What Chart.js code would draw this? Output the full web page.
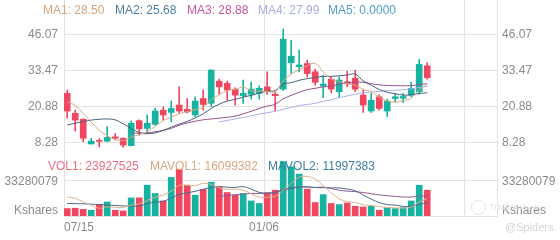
<!DOCTYPE html>
<html>
<head>
<meta charset="utf-8">
<script src="https://cdn.jsdelivr.net/npm/chart.js@4.4.1/dist/chart.umd.min.js"></script>
<style>
  body { margin: 0; width: 560px; height: 240px; overflow: hidden; background: #fff; position: relative;
         font-family: "Liberation Sans", Arial, sans-serif; }
  canvas { position: absolute; left: 0; }
  #price { top: 0; }
  #volume { top: 160px; }
  .lg { position: absolute; font-size: 12px; line-height: 14px; white-space: nowrap; }
  .wm { position: absolute; color: #d2d2d2; white-space: nowrap; }
</style>
</head>
<body>
<canvas id="price" width="560" height="160"></canvas>
<canvas id="volume" width="560" height="80"></canvas>

<span class="lg" style="left:43px;top:3px;color:#d4a47c">MA1: 28.50</span>
<span class="lg" style="left:115px;top:3px;color:#4b7fa5">MA2: 25.68</span>
<span class="lg" style="left:187px;top:3px;color:#c9559e">MA3: 28.88</span>
<span class="lg" style="left:258px;top:3px;color:#a7aee3">MA4: 27.99</span>
<span class="lg" style="left:328px;top:3px;color:#4fa0c8">MA5: 0.0000</span>

<span class="lg" style="left:48px;top:159px;color:#ee6e80">VOL1: 23927525</span>
<span class="lg" style="left:150px;top:159px;color:#d8a883">MAVOL1: 16099382</span>
<span class="lg" style="left:268px;top:159px;color:#3f7ea3">MAVOL2: 11997383</span>

<span class="wm" style="left:471px;top:200px;width:13px;height:13px;border:1px solid #e2e2e2;border-radius:50%"></span>
<span class="wm" style="left:489px;top:202px;font-size:9px;color:#e6e6e6">TradingView</span>
<span class="wm" style="left:505px;top:221px;font-size:11px">@Spiders</span>

<script>
// candles, one per trading day
const opens  = [25.5, 18.5, 16.4, 7.7, 8.9, 8.7, 10.2, 9.7, 7.1, 15.9, 13.2, 14.6, 19.6, 18.8, 21.4, 19.9, 17.9, 23.7, 22.0, 29.8, 29.0, 26.9, 24.7, 25.2, 25.5, 27.8, 25.2, 27.0, 36.3, 34.9, 36.0, 33.1, 28.1, 30.5, 26.1, 29.6, 30.8, 24.9, 19.3, 24.3, 19.3, 23.7, 23.8, 24.9, 26.1, 35.2];
const closes = [19.3, 16.1, 9.7, 8.7, 8.6, 10.0, 9.7, 7.3, 15.0, 13.0, 15.0, 19.3, 17.9, 20.2, 19.3, 19.0, 22.8, 21.6, 33.7, 27.8, 26.7, 24.9, 25.5, 27.0, 27.3, 26.1, 24.7, 44.6, 38.6, 35.5, 32.5, 29.4, 28.8, 27.0, 30.2, 28.9, 27.0, 21.4, 23.1, 20.2, 22.8, 24.3, 24.4, 27.3, 35.7, 31.0];
const highs  = [26.7, 19.6, 16.6, 9.7, 9.6, 13.8, 11.4, 9.9, 15.8, 16.2, 17.9, 20.3, 20.7, 22.8, 27.8, 23.7, 24.3, 26.7, 33.9, 30.5, 29.8, 27.5, 30.2, 29.5, 28.2, 33.1, 26.1, 48.1, 44.2, 40.7, 37.2, 34.0, 31.9, 31.3, 31.3, 33.3, 33.7, 26.7, 25.5, 25.0, 23.5, 25.5, 25.5, 29.4, 37.5, 36.3];
const lows   = [16.8, 12.3, 8.5, 7.7, 6.7, 8.4, 9.1, 6.5, 7.0, 10.8, 11.5, 14.3, 16.1, 15.5, 18.6, 18.6, 17.3, 19.6, 20.8, 25.3, 23.1, 21.4, 22.0, 23.5, 23.5, 25.2, 19.3, 26.5, 32.5, 33.1, 31.3, 28.4, 24.0, 25.7, 24.0, 27.8, 26.1, 18.8, 18.8, 19.6, 17.3, 22.6, 22.3, 24.3, 25.2, 30.5];

// moving average lines
const ma1 = [22.5, 21.3, 18.5, 15.4, 12.5, 10.6, 9.3, 8.9, 10.1, 11.0, 12.0, 13.9, 16.0, 17.1, 18.3, 19.1, 19.8, 20.6, 23.3, 25.0, 26.5, 26.9, 27.7, 26.4, 26.3, 26.2, 26.1, 29.9, 32.3, 33.9, 35.2, 36.1, 33.0, 30.6, 29.6, 28.9, 28.4, 26.9, 26.1, 24.1, 22.9, 22.4, 23.0, 23.8, 26.9, 28.5];
const ma2 = [14.4, 15.0, 15.6, 16.1, 16.4, 16.5, 16.2, 14.8, 13.2, 11.7, 11.3, 11.6, 12.5, 13.6, 14.7, 15.6, 16.9, 18.3, 20.2, 21.7, 22.8, 23.4, 24.2, 24.8, 25.6, 26.3, 26.5, 28.8, 29.3, 30.1, 30.7, 31.1, 31.5, 31.5, 31.7, 32.0, 32.3, 29.9, 28.4, 26.9, 25.9, 25.4, 24.9, 25.0, 25.5, 25.7];
const ma3 = [null, null, null, null, null, null, null, null, 11.6, 11.5, 11.6, 12.0, 12.5, 13.2, 14.3, 15.1, 15.7, 16.2, 16.5, 16.8, 17.1, 17.5, 18.3, 19.2, 20.2, 21.0, 21.7, 23.6, 24.8, 25.9, 26.8, 27.3, 27.8, 28.1, 28.7, 29.2, 29.4, 29.4, 28.9, 28.5, 28.3, 28.2, 28.2, 28.2, 28.6, 28.9];
const ma4 = [null, null, null, null, null, null, null, null, null, null, null, null, null, null, null, null, null, null, null, 15.5, 16.0, 16.5, 17.0, 17.6, 18.2, 18.7, 19.2, 19.9, 20.6, 21.2, 21.6, 22.0, 22.7, 23.3, 24.0, 24.6, 25.2, 25.7, 26.0, 26.2, 26.5, 26.6, 26.8, 27.1, 27.6, 28.0];

// volume (shares) and its averages
const volumes = [6.9e6, 7.2e6, 6.2e6, 5.3e6, 10.6e6, 13.0e6, 5.3e6, 4.7e6, 16.8e6, 16.8e6, 28.6e6, 20.9e6, 14.0e6, 35.8e6, 43.2e6, 28.6e6, 19.3e6, 24.6e6, 31.4e6, 27.0e6, 21.8e6, 19.3e6, 20.9e6, 14.0e6, 11.6e6, 21.4e6, 24.0e6, 50.5e6, 45.7e6, 38.9e6, 24.9e6, 12.5e6, 19.9e6, 11.6e6, 10.6e6, 12.1e6, 9.0e6, 8.4e6, 9.0e6, 5.3e6, 7.8e6, 6.9e6, 7.8e6, 14.0e6, 28.6e6, 23927525];
const mavol1 = [17.7e6, 16.5e6, 13.0e6, 10.0e6, 7.2e6, 8.5e6, 8.1e6, 7.8e6, 10.1e6, 11.3e6, 14.4e6, 17.6e6, 19.4e6, 23.2e6, 28.5e6, 28.5e6, 28.2e6, 30.3e6, 29.4e6, 26.2e6, 24.8e6, 24.8e6, 24.1e6, 20.6e6, 17.5e6, 17.4e6, 18.4e6, 24.2e6, 30.5e6, 36.0e6, 36.7e6, 34.4e6, 28.4e6, 21.6e6, 15.9e6, 13.3e6, 12.6e6, 10.3e6, 9.8e6, 8.8e6, 7.9e6, 7.5e6, 7.4e6, 8.4e6, 13.0e6, 16099382];
const mavol2 = [11.6e6, 11.5e6, 11.3e6, 11.0e6, 10.6e6, 10.2e6, 9.8e6, 9.4e6, 9.2e6, 9.3e6, 11.5e6, 12.8e6, 13.6e6, 16.7e6, 19.9e6, 21.5e6, 22.9e6, 24.9e6, 26.3e6, 27.4e6, 26.7e6, 26.5e6, 27.2e6, 25.0e6, 21.9e6, 21.2e6, 21.6e6, 24.2e6, 25.6e6, 26.8e6, 27.1e6, 26.4e6, 26.3e6, 26.1e6, 26.0e6, 25.0e6, 23.5e6, 19.4e6, 15.7e6, 12.4e6, 10.6e6, 10.1e6, 8.9e6, 9.1e6, 10.9e6, 11997383];
const mavol3 = [null, null, null, null, null, null, null, null, null, null, null, null, null, null, null, null, null, null, null, 18.3e6, 19.1e6, 19.7e6, 20.4e6, 20.9e6, 20.9e6, 21.3e6, 22.3e6, 24.5e6, 26.0e6, 27.1e6, 26.9e6, 26.5e6, 26.8e6, 25.6e6, 23.9e6, 23.1e6, 22.6e6, 21.8e6, 20.7e6, 19.6e6, 18.9e6, 18.2e6, 17.6e6, 17.6e6, 18.4e6, 18.6e6];

// axis ticks
const priceTicks = [8.28, 20.88, 33.47, 46.07];
const volTick = 33280079;
const volTickLabels = ['Kshares', '33280079'];
const dateTicks = [0, 25, 50];
const dateLabels = ['07/15', '01/06', ''];

const UP = '#15b3a0';
const DOWN = '#f0465f';
const GRID = '#e3e3e3';
const TEXT = '#8a8a8a';
const FONT = { family: '"Liberation Sans", Arial, sans-serif', size: 12 };
const X_MIN = 0, X_MAX = 54.125;   // room on the right after the last candle
const kLabelAt = 6.5e6;            // where "Kshares" sits, a little above the base line

Chart.defaults.font.family = FONT.family;

const pos = i => i + 0.4;
const pts = arr => arr.map((v, i) => ({ x: pos(i), y: v }));
const colors = closes.map((c, i) => c >= opens[i] ? UP : DOWN);

function maLine(data, color) {
	return {
		type: 'line', data: pts(data), borderColor: color, borderWidth: 1,
		pointRadius: 0, tension: 0.35, fill: false, order: 0,
	};
}

function noPadding(s) {
	s.paddingTop = 0;
	s.paddingBottom = 0;
	s.paddingLeft = 0;
	s.paddingRight = 0;
}

function xScale(showLabels) {
	return {
		type: 'linear', min: X_MIN, max: X_MAX, offset: false,
		grid: { color: GRID, drawTicks: false, offset: false },
		border: { display: showLabels, color: GRID },
		ticks: {
			display: showLabels, font: FONT, color: TEXT, padding: 4,
			align: 'inner', maxRotation: 0, autoSkip: false,
			callback: (v, i) => dateLabels[i],
		},
		afterBuildTicks: s => { s.ticks = dateTicks.map(v => ({ value: v })); },
		afterFit: s => { s.height = showLabels ? 24 : 0; noPadding(s); },
	};
}

function yScale(side, min, max, ticks, label, gridColor) {
	return {
		position: side, min: min, max: max,
		grid: { display: side === 'left', color: gridColor || GRID, drawTicks: false },
		border: { display: true, color: GRID },
		ticks: {
			font: FONT, color: TEXT, padding: side === 'left' ? 6 : 5,
			labelOffset: 0,
			callback: (v, i) => label(i),
		},
		afterBuildTicks: s => { s.ticks = ticks.map(v => ({ value: v })); },
		afterFit: s => { s.width = side === 'left' ? 64 : 63; noPadding(s); },
	};
}

const baseOptions = {
	responsive: false,
	animation: false,
	layout: { padding: 0 },
	plugins: { legend: { display: false }, tooltip: { enabled: false } },
};

new Chart(document.getElementById('price'), {
	type: 'bar',
	data: {
		datasets: [
			maLine(ma1, '#d9a982'),
			maLine(ma2, '#46607a'),
			maLine(ma3, '#97508f'),
			maLine(ma4, '#a9b0e6'),
			{
				data: lows.map((l, i) => ({ x: pos(i), y: [l, highs[i]] })),
				backgroundColor: colors, barThickness: 1, grouped: false, order: 2,
			},
			{
				data: opens.map((o, i) => ({ x: pos(i), y: [o, closes[i]] })),
				backgroundColor: colors, barThickness: 6, minBarLength: 1, grouped: false, order: 1,
			},
		],
	},
	options: Object.assign({}, baseOptions, {
		scales: {
			x: xScale(false),
			y: yScale('left', 2.06, 58.37, priceTicks, i => priceTicks[i].toFixed(2)),
			y2: yScale('right', 2.06, 58.37, priceTicks, i => priceTicks[i].toFixed(2)),
		},
	}),
});

// "Kshares" is a label only: its helper grid line stays hidden
const volTicks = [kLabelAt, volTick];
const volGridColor = ctx => ctx.tick && ctx.tick.value === kLabelAt ? 'rgba(0,0,0,0)' : GRID;

const volOptions = Object.assign({}, baseOptions, {
	scales: {
		x: xScale(true),
		y: yScale('left', 0, 52e6, volTicks, i => volTickLabels[i], volGridColor),
		y2: yScale('right', 0, 52e6, volTicks, i => volTickLabels[i]),
	},
});
volOptions.scales.y.ticks.labelOffset = 2;
volOptions.scales.y2.ticks.labelOffset = 2;

new Chart(document.getElementById('volume'), {
	type: 'bar',
	data: {
		datasets: [
			maLine(mavol1, '#dfb08e'),
			maLine(mavol2, '#4b6b88'),
			maLine(mavol3, '#8f5a8f'),
			{
				data: pts(volumes), backgroundColor: colors, barThickness: 6, order: 1,
			},
		],
	},
	options: volOptions,
});
</script>
</body>
</html>
